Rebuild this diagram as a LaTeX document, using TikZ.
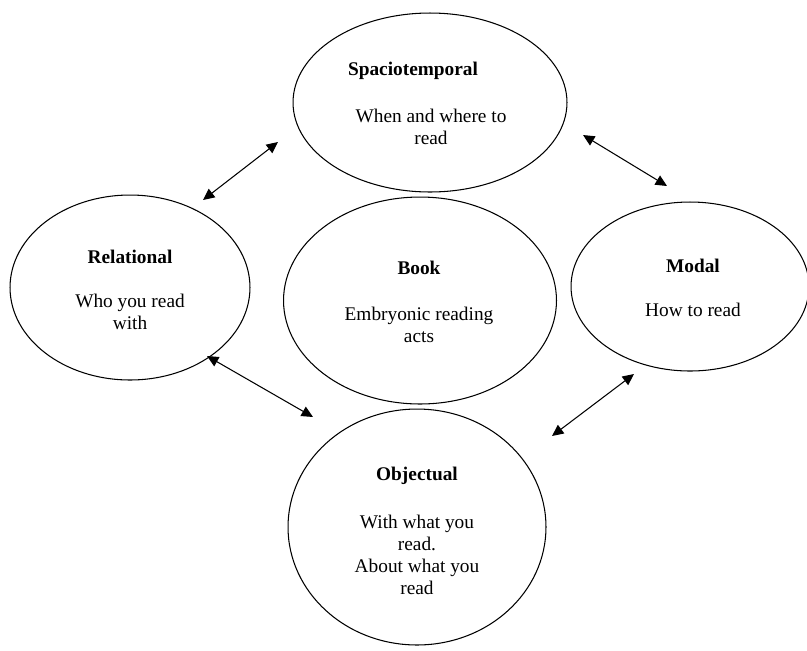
\documentclass[tikz,border=0pt]{standalone}
\usepackage{fontspec}
\setmainfont{Liberation Serif}
\usepackage{tikz}
\usetikzlibrary{arrows.meta, positioning, shapes.geometric}

\tikzset{
  oval/.style={draw, ellipse, line width=0.6pt, inner sep=0pt},
  title/.style={font=\fontsize{11}{12.5}\selectfont\bfseries, align=center},
  body/.style={font=\fontsize{11}{12.5}\selectfont, align=center},
  link/.style={line width=0.6pt, {Triangle[length=6.5pt,width=6pt]}-{Triangle[length=6.5pt,width=6pt]}}
}

\begin{document}
\begin{tikzpicture}[x=0.02cm, y=-0.02cm]
      % Fix the page size
      \useasboundingbox (0,0) rectangle (807,650);

      % Draw the five ellipses
      \node[oval, minimum width=5.48cm, minimum height=3.58cm] (spacio) at (430,102.5) {};
      \node[oval, minimum width=4.8cm, minimum height=3.7cm] (relational) at (130,287.5) {};
      \node[oval, minimum width=5.46cm, minimum height=4.14cm] (book) at (420,300.5) {};
      \node[oval, minimum width=4.76cm, minimum height=3.38cm] (modal) at (690,286.5) {};
      \node[oval, minimum width=5.16cm, minimum height=4.72cm] (objectual) at (417,527) {};

      % Titles
      \node[title] (spacioT) at (413,71) {Spaciotemporal};
      \node[title] (relationalT) at (130,257) {Relational};
      \node[title] (bookT) at (419,268) {Book};
      \node[title] (modalT) at (693,266) {Modal};
      \node[title] (objectualT) at (417,476) {Objectual};

      % Descriptions
      \node[body] (spacioB) at (431,127) {When and where to\\read};
      \node[body] (relationalB) at (130,311.5) {Who you read\\with};
      \node[body] (bookB) at (419,325) {Embryonic reading\\acts};
      \node[body] (modalB) at (693,310) {How to read};
      \node[body] (objectualB) at (417,554.5) {With what you\\read.\\About what you\\read};

      % Arrow end points
      \coordinate (s1) at (278,142);
      \coordinate (r1) at (203,200);
      \coordinate (s2) at (583,135);
      \coordinate (m1) at (667,186);
      \coordinate (r2) at (207,356);
      \coordinate (o1) at (313,417);
      \coordinate (m2) at (634,374);
      \coordinate (o2) at (552,436);

      % Double-headed arrows
      \foreach \a/\b in {s1/r1, s2/m1, r2/o1, m2/o2} {
        \draw[link] (\a) -- (\b);
      }

    \end{tikzpicture}
\end{document}
